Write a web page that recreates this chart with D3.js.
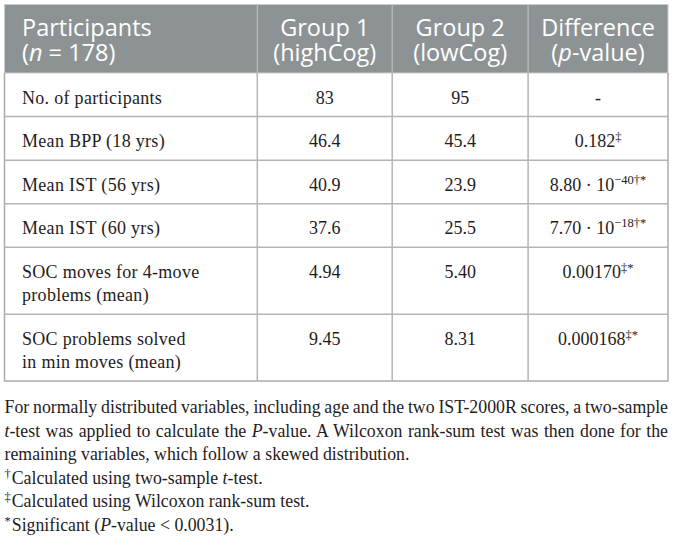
<!DOCTYPE html>
<html>
<head>
<meta charset="utf-8">
<script src="https://cdn.jsdelivr.net/npm/d3@7"></script>
<style>
  html, body { margin: 0; padding: 0; background: #fff; }
  svg { display: block; }
</style>
</head>
<body>
<svg id="chart" width="673" height="538"></svg>
<script>
// ---------- data ----------
const headerLine1 = ["Participants", "Group 1", "Group 2", "Difference"];
const headerLine2 = [
  [["(", false], ["n", true], [" = 178)", false]],
  [["(highCog)", false]],
  [["(lowCog)", false]],
  [["(", false], ["p", true], ["-value)", false]]
];
const rowLabels = [
  ["No. of participants"],
  ["Mean BPP (18 yrs)"],
  ["Mean IST (56 yrs)"],
  ["Mean IST (60 yrs)"],
  ["SOC moves for 4-move", "problems (mean)"],
  ["SOC problems solved", "in min moves (mean)"]
];
const group1 = ["83", "46.4", "40.9", "37.6", "4.94", "9.45"];
const group2 = ["95", "45.4", "23.9", "25.5", "5.40", "8.31"];
// difference: main text, exponent (or null), footnote marks
const diffMain = ["-", "0.182", "8.80 · 10", "7.70 · 10", "0.00170", "0.000168"];
const diffExp = [null, null, "−40", "−18", null, null];
const diffMarks = ["", "‡", "†*", "†*", "‡*", "‡*"];
const footnotes = [
  { parts: [["For normally distributed variables, including age and the two IST-2000R scores, a two-sample", false]], justify: true },
  { parts: [["t", true], ["-test was applied to calculate the ", false], ["P", true], ["-value. A Wilcoxon rank-sum test was then done for the", false]], justify: true },
  { parts: [["remaining variables, which follow a skewed distribution.", false]], justify: false },
  { sup: "†", parts: [["Calculated using two-sample ", false], ["t", true], ["-test.", false]], justify: false },
  { sup: "‡", parts: [["Calculated using Wilcoxon rank-sum test.", false]], justify: false },
  { sup: "*", parts: [["Significant (", false], ["P", true], ["-value < 0.0031).", false]], justify: false }
];

// ---------- layout ----------
const svg = d3.select("#chart");
const tableLeft = 4.5, tableRight = 668;
const colWeights = [253, 135, 136, 140];
const colEdges = [0].concat(Array.from(d3.cumsum(colWeights)));
const xEdge = d3.scaleLinear().domain([0, d3.sum(colWeights)]).range([tableLeft, tableRight]);
const colLeft = i => xEdge(colEdges[i]);
const colRight = i => xEdge(colEdges[i + 1]);
const colMid = i => (colLeft(i) + colRight(i)) / 2;
const labelPad = 17.5;

const headerTop = 4.5, headerBottom = 73, tableBottom = 381;
const rowPad = 20.3, lineH = 23.3;
const rowUnits = rowLabels.map(l => rowPad + lineH * l.length);
const rowStarts = [0].concat(Array.from(d3.cumsum(rowUnits)));
const yRow = d3.scaleLinear().domain([0, d3.sum(rowUnits)]).range([headerBottom, tableBottom]);
const firstBase = 30.5;

const headerFill = "#8d9395";
const gridColor = "#b3b5b6";
const textColor = "#1f1c1d";
const sans = "'Open Sans', 'Noto Sans', sans-serif";
const serif = "'Liberation Serif', 'Times New Roman', serif";
const headFs = 23.5, bodyFs = 18, fnFs = 17.8;

// header background
svg.append("rect")
  .attr("x", tableLeft).attr("y", headerTop)
  .attr("width", tableRight - tableLeft).attr("height", headerBottom - headerTop)
  .attr("fill", headerFill)
  .attr("stroke", "#c9cccd").attr("stroke-width", 1);

// header dividers
svg.selectAll("line.hdiv").data([1, 2, 3]).join("line")
  .attr("class", "hdiv")
  .attr("x1", d => colLeft(d)).attr("x2", d => colLeft(d))
  .attr("y1", headerTop).attr("y2", headerBottom)
  .attr("stroke", "#b9bdbe").attr("stroke-width", 1.2);

// header text (two lines in one text element)
svg.selectAll("text.htext").data(d3.range(4)).join("text")
  .attr("class", "htext")
  .attr("font-family", sans).attr("font-size", headFs).attr("fill", "#fff")
  .attr("text-anchor", d => d === 0 ? "start" : "middle")
  .each(function (d) {
    const t = d3.select(this);
    const x = d === 0 ? colLeft(0) + labelPad : colMid(d);
    t.append("tspan").attr("x", x).attr("y", 35.5).text(headerLine1[d]);
    headerLine2[d].forEach((p, j) => {
      const s = t.append("tspan").attr("font-style", p[1] ? "italic" : "normal").text(p[0]);
      if (j === 0) s.attr("x", x).attr("y", 60.5);
    });
  });

// body grid: horizontal lines
svg.selectAll("line.hrow").data(rowStarts.slice(1, -1)).join("line")
  .attr("class", "hrow")
  .attr("x1", tableLeft).attr("x2", tableRight)
  .attr("y1", d => yRow(d)).attr("y2", d => yRow(d))
  .attr("stroke", gridColor).attr("stroke-width", 1.5);
// body vertical lines
svg.selectAll("line.vcol").data([1, 2, 3]).join("line")
  .attr("class", "vcol")
  .attr("x1", d => colLeft(d)).attr("x2", d => colLeft(d))
  .attr("y1", headerBottom).attr("y2", tableBottom)
  .attr("stroke", gridColor).attr("stroke-width", 1.5);
// body outer border
svg.append("path")
  .attr("d", `M${tableLeft},${headerBottom}V${tableBottom}H${tableRight}V${headerBottom}`)
  .attr("fill", "none").attr("stroke", "#a9acad").attr("stroke-width", 1.5);

// body text
const rows = svg.selectAll("g.row").data(d3.range(rowLabels.length)).join("g").attr("class", "row")
  .attr("transform", d => `translate(0,${yRow(rowStarts[d])})`);
rows.each(function (r) {
  const g = d3.select(this);
  const lab = g.append("text")
    .attr("font-family", serif).attr("font-size", bodyFs).attr("fill", textColor)
    .attr("letter-spacing", 0.3);
  rowLabels[r].forEach((ln, k) => {
    lab.append("tspan").attr("x", colLeft(0) + labelPad).attr("y", firstBase + k * lineH).text(ln);
  });
  g.append("text").attr("x", colMid(1)).attr("y", firstBase).attr("text-anchor", "middle")
    .attr("font-family", serif).attr("font-size", bodyFs).attr("fill", textColor).text(group1[r]);
  g.append("text").attr("x", colMid(2)).attr("y", firstBase).attr("text-anchor", "middle")
    .attr("font-family", serif).attr("font-size", bodyFs).attr("fill", textColor).text(group2[r]);
  const t = g.append("text").attr("x", colMid(3)).attr("y", firstBase).attr("text-anchor", "middle")
    .attr("font-family", serif).attr("font-size", bodyFs).attr("fill", textColor);
  t.append("tspan").text(diffMain[r]);
  if (diffExp[r]) {
    t.append("tspan").attr("font-size", 12.5).attr("dy", -7).text(diffExp[r] + diffMarks[r]);
  } else if (diffMarks[r]) {
    t.append("tspan").attr("font-size", 12.5).attr("dy", -6).text(diffMarks[r]);
  }
});

// footnotes
const fnBase = 413, fnLH = 23.5;
footnotes.forEach((fn, k) => {
  const t = svg.append("text").attr("x", tableLeft).attr("y", fnBase + k * fnLH)
    .attr("font-family", serif).attr("font-size", fnFs).attr("fill", textColor);
  if (fn.sup) {
    t.append("tspan").attr("font-size", 12.5).attr("dy", -6).text(fn.sup);
  }
  fn.parts.forEach((p, j) => {
    const s = t.append("tspan").attr("font-style", p[1] ? "italic" : "normal").text(p[0]);
    if (fn.sup && j === 0) s.attr("dy", 6).attr("dx", 1);
  });
  if (fn.justify) {
    const len = t.node().getComputedTextLength();
    const full = fn.parts.map(p => p[0]).join("");
    const spaces = (full.match(/ /g) || []).length;
    const extra = (tableRight - tableLeft - len) / spaces;
    t.attr("word-spacing", extra);
  }
});
</script>
</body>
</html>
